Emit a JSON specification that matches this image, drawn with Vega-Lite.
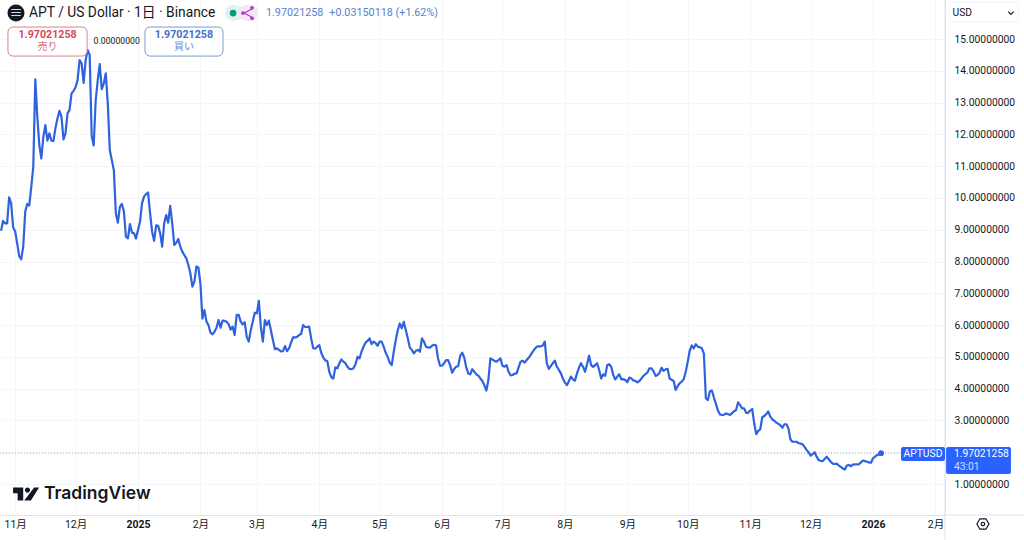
{
  "$schema": "https://vega.github.io/schema/vega-lite/v6.json",
  "autosize": "none",
  "padding": {"left": 0, "top": 0, "right": 79, "bottom": 25},
  "width": 945,
  "height": 515,
  "background": "#ffffff",
  "config": {
    "view": {"stroke": null},
    "text": {"font": "Roboto, 'Noto Sans CJK JP'"}
  },
  "datasets": {
    "prices": [
      {"date":"2024-10-25","price":8.97},{"date":"2024-10-26","price":9.28},{"date":"2024-10-27","price":9.2},{"date":"2024-10-28","price":9.2},{"date":"2024-10-29","price":10.02},{"date":"2024-10-30","price":9.83},{"date":"2024-10-31","price":9.07},
      {"date":"2024-11-01","price":8.95},{"date":"2024-11-02","price":8.57},{"date":"2024-11-03","price":8.17},{"date":"2024-11-04","price":8.07},{"date":"2024-11-05","price":8.47},{"date":"2024-11-06","price":9.57},{"date":"2024-11-07","price":9.81},{"date":"2024-11-08","price":9.76},{"date":"2024-11-09","price":10.35},{"date":"2024-11-10","price":10.98},{"date":"2024-11-11","price":13.73},{"date":"2024-11-12","price":12.55},{"date":"2024-11-13","price":11.66},{"date":"2024-11-14","price":11.24},{"date":"2024-11-15","price":11.93},{"date":"2024-11-16","price":12.29},{"date":"2024-11-17","price":11.8},{"date":"2024-11-18","price":12.03},{"date":"2024-11-19","price":11.8},{"date":"2024-11-20","price":11.79},{"date":"2024-11-21","price":12.2},{"date":"2024-11-22","price":12.5},{"date":"2024-11-23","price":12.74},{"date":"2024-11-24","price":12.55},{"date":"2024-11-25","price":11.84},{"date":"2024-11-26","price":12.03},{"date":"2024-11-27","price":12.66},{"date":"2024-11-28","price":12.77},{"date":"2024-11-29","price":13.29},{"date":"2024-11-30","price":13.37},
      {"date":"2024-12-01","price":13.48},{"date":"2024-12-02","price":13.71},{"date":"2024-12-03","price":14.34},{"date":"2024-12-04","price":14.23},{"date":"2024-12-05","price":13.62},{"date":"2024-12-06","price":14.34},{"date":"2024-12-07","price":14.65},{"date":"2024-12-08","price":14.5},{"date":"2024-12-09","price":11.95},{"date":"2024-12-10","price":11.65},{"date":"2024-12-11","price":13.08},{"date":"2024-12-12","price":13.7},{"date":"2024-12-13","price":14.21},{"date":"2024-12-14","price":13.42},{"date":"2024-12-15","price":13.6},{"date":"2024-12-16","price":13.92},{"date":"2024-12-17","price":12.97},{"date":"2024-12-18","price":11.5},{"date":"2024-12-19","price":11.19},{"date":"2024-12-20","price":10.88},{"date":"2024-12-21","price":9.52},{"date":"2024-12-22","price":9.22},{"date":"2024-12-23","price":9.72},{"date":"2024-12-24","price":9.81},{"date":"2024-12-25","price":9.57},{"date":"2024-12-26","price":8.78},{"date":"2024-12-27","price":8.73},{"date":"2024-12-28","price":9.18},{"date":"2024-12-29","price":8.91},{"date":"2024-12-30","price":8.89},{"date":"2024-12-31","price":8.72},
      {"date":"2025-01-01","price":8.99},{"date":"2025-01-02","price":9.25},{"date":"2025-01-03","price":9.83},{"date":"2025-01-04","price":10.04},{"date":"2025-01-05","price":10.12},{"date":"2025-01-06","price":10.17},{"date":"2025-01-07","price":9.52},{"date":"2025-01-08","price":8.94},{"date":"2025-01-09","price":8.65},{"date":"2025-01-10","price":9.14},{"date":"2025-01-11","price":9.12},{"date":"2025-01-12","price":8.89},{"date":"2025-01-13","price":8.47},{"date":"2025-01-14","price":9.2},{"date":"2025-01-15","price":9.46},{"date":"2025-01-16","price":9.22},{"date":"2025-01-17","price":9.75},{"date":"2025-01-18","price":9.2},{"date":"2025-01-19","price":8.52},{"date":"2025-01-20","price":8.59},{"date":"2025-01-21","price":8.71},{"date":"2025-01-22","price":8.47},{"date":"2025-01-23","price":8.31},{"date":"2025-01-24","price":8.2},{"date":"2025-01-25","price":8.1},{"date":"2025-01-26","price":7.89},{"date":"2025-01-27","price":7.63},{"date":"2025-01-28","price":7.21},{"date":"2025-01-29","price":7.37},{"date":"2025-01-30","price":7.84},{"date":"2025-01-31","price":7.81},
      {"date":"2025-02-01","price":7.3},{"date":"2025-02-02","price":6.2},{"date":"2025-02-03","price":6.47},{"date":"2025-02-04","price":6.11},{"date":"2025-02-05","price":6.0},{"date":"2025-02-06","price":5.76},{"date":"2025-02-07","price":5.71},{"date":"2025-02-08","price":5.79},{"date":"2025-02-09","price":5.92},{"date":"2025-02-10","price":6.16},{"date":"2025-02-11","price":5.92},{"date":"2025-02-12","price":6.14},{"date":"2025-02-13","price":6.13},{"date":"2025-02-14","price":6.11},{"date":"2025-02-15","price":6.03},{"date":"2025-02-16","price":5.86},{"date":"2025-02-17","price":5.95},{"date":"2025-02-18","price":5.69},{"date":"2025-02-19","price":6.32},{"date":"2025-02-20","price":6.32},{"date":"2025-02-21","price":6.11},{"date":"2025-02-22","price":6.02},{"date":"2025-02-23","price":6.09},{"date":"2025-02-24","price":5.63},{"date":"2025-02-25","price":5.48},{"date":"2025-02-26","price":5.84},{"date":"2025-02-27","price":6.11},{"date":"2025-02-28","price":6.39},
      {"date":"2025-03-01","price":6.37},{"date":"2025-03-02","price":6.76},{"date":"2025-03-03","price":5.95},{"date":"2025-03-04","price":5.48},{"date":"2025-03-05","price":6.16},{"date":"2025-03-06","price":6.0},{"date":"2025-03-07","price":6.14},{"date":"2025-03-08","price":5.84},{"date":"2025-03-09","price":5.53},{"date":"2025-03-10","price":5.24},{"date":"2025-03-11","price":5.27},{"date":"2025-03-12","price":5.22},{"date":"2025-03-13","price":5.17},{"date":"2025-03-14","price":5.18},{"date":"2025-03-15","price":5.34},{"date":"2025-03-16","price":5.18},{"date":"2025-03-17","price":5.27},{"date":"2025-03-18","price":5.45},{"date":"2025-03-19","price":5.61},{"date":"2025-03-20","price":5.61},{"date":"2025-03-21","price":5.63},{"date":"2025-03-22","price":5.69},{"date":"2025-03-23","price":5.72},{"date":"2025-03-24","price":6.0},{"date":"2025-03-25","price":5.94},{"date":"2025-03-26","price":5.94},{"date":"2025-03-27","price":5.95},{"date":"2025-03-28","price":5.58},{"date":"2025-03-29","price":5.27},{"date":"2025-03-30","price":5.26},{"date":"2025-03-31","price":5.32},
      {"date":"2025-04-01","price":5.37},{"date":"2025-04-02","price":5.13},{"date":"2025-04-03","price":4.98},{"date":"2025-04-04","price":4.89},{"date":"2025-04-05","price":4.87},{"date":"2025-04-06","price":4.53},{"date":"2025-04-07","price":4.36},{"date":"2025-04-08","price":4.32},{"date":"2025-04-09","price":4.67},{"date":"2025-04-10","price":4.64},{"date":"2025-04-11","price":4.8},{"date":"2025-04-12","price":4.92},{"date":"2025-04-13","price":4.85},{"date":"2025-04-14","price":4.8},{"date":"2025-04-15","price":4.69},{"date":"2025-04-16","price":4.62},{"date":"2025-04-17","price":4.61},{"date":"2025-04-18","price":4.64},{"date":"2025-04-19","price":4.77},{"date":"2025-04-20","price":5.0},{"date":"2025-04-21","price":4.95},{"date":"2025-04-22","price":5.16},{"date":"2025-04-23","price":5.32},{"date":"2025-04-24","price":5.45},{"date":"2025-04-25","price":5.5},{"date":"2025-04-26","price":5.58},{"date":"2025-04-27","price":5.4},{"date":"2025-04-28","price":5.48},{"date":"2025-04-29","price":5.43},{"date":"2025-04-30","price":5.35},
      {"date":"2025-05-01","price":5.48},{"date":"2025-05-02","price":5.48},{"date":"2025-05-03","price":5.32},{"date":"2025-05-04","price":5.13},{"date":"2025-05-05","price":5.0},{"date":"2025-05-06","price":4.82},{"date":"2025-05-07","price":4.74},{"date":"2025-05-08","price":5.16},{"date":"2025-05-09","price":5.53},{"date":"2025-05-10","price":5.84},{"date":"2025-05-11","price":6.05},{"date":"2025-05-12","price":5.9},{"date":"2025-05-13","price":6.1},{"date":"2025-05-14","price":5.84},{"date":"2025-05-15","price":5.58},{"date":"2025-05-16","price":5.29},{"date":"2025-05-17","price":5.22},{"date":"2025-05-18","price":5.11},{"date":"2025-05-19","price":5.19},{"date":"2025-05-20","price":5.22},{"date":"2025-05-21","price":5.16},{"date":"2025-05-22","price":5.58},{"date":"2025-05-23","price":5.48},{"date":"2025-05-24","price":5.32},{"date":"2025-05-25","price":5.3},{"date":"2025-05-26","price":5.29},{"date":"2025-05-27","price":5.35},{"date":"2025-05-28","price":5.38},{"date":"2025-05-29","price":5.36},{"date":"2025-05-30","price":4.95},{"date":"2025-05-31","price":4.72},
      {"date":"2025-06-01","price":4.72},{"date":"2025-06-02","price":4.8},{"date":"2025-06-03","price":4.9},{"date":"2025-06-04","price":4.9},{"date":"2025-06-05","price":4.74},{"date":"2025-06-06","price":4.5},{"date":"2025-06-07","price":4.62},{"date":"2025-06-08","price":4.69},{"date":"2025-06-09","price":4.71},{"date":"2025-06-10","price":5.03},{"date":"2025-06-11","price":5.13},{"date":"2025-06-12","price":4.98},{"date":"2025-06-13","price":4.67},{"date":"2025-06-14","price":4.48},{"date":"2025-06-15","price":4.45},{"date":"2025-06-16","price":4.61},{"date":"2025-06-17","price":4.53},{"date":"2025-06-18","price":4.45},{"date":"2025-06-19","price":4.41},{"date":"2025-06-20","price":4.32},{"date":"2025-06-21","price":4.24},{"date":"2025-06-22","price":4.11},{"date":"2025-06-23","price":3.94},{"date":"2025-06-24","price":4.27},{"date":"2025-06-25","price":4.95},{"date":"2025-06-26","price":4.92},{"date":"2025-06-27","price":4.87},{"date":"2025-06-28","price":4.85},{"date":"2025-06-29","price":4.9},{"date":"2025-06-30","price":4.95},
      {"date":"2025-07-01","price":4.72},{"date":"2025-07-02","price":4.69},{"date":"2025-07-03","price":4.74},{"date":"2025-07-04","price":4.53},{"date":"2025-07-05","price":4.42},{"date":"2025-07-06","price":4.43},{"date":"2025-07-07","price":4.47},{"date":"2025-07-08","price":4.48},{"date":"2025-07-09","price":4.67},{"date":"2025-07-10","price":4.85},{"date":"2025-07-11","price":4.88},{"date":"2025-07-12","price":4.82},{"date":"2025-07-13","price":4.9},{"date":"2025-07-14","price":4.97},{"date":"2025-07-15","price":5.06},{"date":"2025-07-16","price":5.16},{"date":"2025-07-17","price":5.25},{"date":"2025-07-18","price":5.32},{"date":"2025-07-19","price":5.33},{"date":"2025-07-20","price":5.33},{"date":"2025-07-21","price":5.36},{"date":"2025-07-22","price":5.48},{"date":"2025-07-23","price":4.8},{"date":"2025-07-24","price":4.62},{"date":"2025-07-25","price":4.71},{"date":"2025-07-26","price":4.8},{"date":"2025-07-27","price":4.88},{"date":"2025-07-28","price":4.69},{"date":"2025-07-29","price":4.59},{"date":"2025-07-30","price":4.48},{"date":"2025-07-31","price":4.32},
      {"date":"2025-08-01","price":4.19},{"date":"2025-08-02","price":4.11},{"date":"2025-08-03","price":4.24},{"date":"2025-08-04","price":4.38},{"date":"2025-08-05","price":4.29},{"date":"2025-08-06","price":4.25},{"date":"2025-08-07","price":4.48},{"date":"2025-08-08","price":4.66},{"date":"2025-08-09","price":4.8},{"date":"2025-08-10","price":4.69},{"date":"2025-08-11","price":4.53},{"date":"2025-08-12","price":4.77},{"date":"2025-08-13","price":5.04},{"date":"2025-08-14","price":4.74},{"date":"2025-08-15","price":4.68},{"date":"2025-08-16","price":4.74},{"date":"2025-08-17","price":4.8},{"date":"2025-08-18","price":4.59},{"date":"2025-08-19","price":4.32},{"date":"2025-08-20","price":4.45},{"date":"2025-08-21","price":4.4},{"date":"2025-08-22","price":4.74},{"date":"2025-08-23","price":4.77},{"date":"2025-08-24","price":4.69},{"date":"2025-08-25","price":4.43},{"date":"2025-08-26","price":4.29},{"date":"2025-08-27","price":4.38},{"date":"2025-08-28","price":4.45},{"date":"2025-08-29","price":4.29},{"date":"2025-08-30","price":4.3},{"date":"2025-08-31","price":4.27},
      {"date":"2025-09-01","price":4.2},{"date":"2025-09-02","price":4.35},{"date":"2025-09-03","price":4.32},{"date":"2025-09-04","price":4.26},{"date":"2025-09-05","price":4.24},{"date":"2025-09-06","price":4.2},{"date":"2025-09-07","price":4.24},{"date":"2025-09-08","price":4.32},{"date":"2025-09-09","price":4.4},{"date":"2025-09-10","price":4.46},{"date":"2025-09-11","price":4.51},{"date":"2025-09-12","price":4.64},{"date":"2025-09-13","price":4.64},{"date":"2025-09-14","price":4.55},{"date":"2025-09-15","price":4.4},{"date":"2025-09-16","price":4.43},{"date":"2025-09-17","price":4.5},{"date":"2025-09-18","price":4.66},{"date":"2025-09-19","price":4.56},{"date":"2025-09-20","price":4.61},{"date":"2025-09-21","price":4.62},{"date":"2025-09-22","price":4.32},{"date":"2025-09-23","price":4.28},{"date":"2025-09-24","price":4.24},{"date":"2025-09-25","price":3.96},{"date":"2025-09-26","price":4.08},{"date":"2025-09-27","price":4.17},{"date":"2025-09-28","price":4.22},{"date":"2025-09-29","price":4.3},{"date":"2025-09-30","price":4.53},
      {"date":"2025-10-01","price":4.85},{"date":"2025-10-02","price":5.2},{"date":"2025-10-03","price":5.36},{"date":"2025-10-04","price":5.27},{"date":"2025-10-05","price":5.4},{"date":"2025-10-06","price":5.32},{"date":"2025-10-07","price":5.3},{"date":"2025-10-08","price":5.27},{"date":"2025-10-09","price":5.11},{"date":"2025-10-10","price":3.7},{"date":"2025-10-11","price":3.64},{"date":"2025-10-12","price":3.92},{"date":"2025-10-13","price":3.94},{"date":"2025-10-14","price":3.72},{"date":"2025-10-15","price":3.52},{"date":"2025-10-16","price":3.31},{"date":"2025-10-17","price":3.19},{"date":"2025-10-18","price":3.17},{"date":"2025-10-19","price":3.18},{"date":"2025-10-20","price":3.22},{"date":"2025-10-21","price":3.2},{"date":"2025-10-22","price":3.17},{"date":"2025-10-23","price":3.23},{"date":"2025-10-24","price":3.29},{"date":"2025-10-25","price":3.33},{"date":"2025-10-26","price":3.57},{"date":"2025-10-27","price":3.48},{"date":"2025-10-28","price":3.38},{"date":"2025-10-29","price":3.38},{"date":"2025-10-30","price":3.24},{"date":"2025-10-31","price":3.24},
      {"date":"2025-11-01","price":3.31},{"date":"2025-11-02","price":3.36},{"date":"2025-11-03","price":2.91},{"date":"2025-11-04","price":2.57},{"date":"2025-11-05","price":2.67},{"date":"2025-11-06","price":2.72},{"date":"2025-11-07","price":3.1},{"date":"2025-11-08","price":3.14},{"date":"2025-11-09","price":3.2},{"date":"2025-11-10","price":3.28},{"date":"2025-11-11","price":3.12},{"date":"2025-11-12","price":3.03},{"date":"2025-11-13","price":2.99},{"date":"2025-11-14","price":2.93},{"date":"2025-11-15","price":2.89},{"date":"2025-11-16","price":2.85},{"date":"2025-11-17","price":2.77},{"date":"2025-11-18","price":2.88},{"date":"2025-11-19","price":2.88},{"date":"2025-11-20","price":2.75},{"date":"2025-11-21","price":2.4},{"date":"2025-11-22","price":2.33},{"date":"2025-11-23","price":2.33},{"date":"2025-11-24","price":2.33},{"date":"2025-11-25","price":2.29},{"date":"2025-11-26","price":2.27},{"date":"2025-11-27","price":2.25},{"date":"2025-11-28","price":2.17},{"date":"2025-11-29","price":2.07},{"date":"2025-11-30","price":2.0},
      {"date":"2025-12-01","price":1.89},{"date":"2025-12-02","price":1.94},{"date":"2025-12-03","price":2.0},{"date":"2025-12-04","price":1.86},{"date":"2025-12-05","price":1.75},{"date":"2025-12-06","price":1.73},{"date":"2025-12-07","price":1.72},{"date":"2025-12-08","price":1.79},{"date":"2025-12-09","price":1.86},{"date":"2025-12-10","price":1.78},{"date":"2025-12-11","price":1.7},{"date":"2025-12-12","price":1.64},{"date":"2025-12-13","price":1.63},{"date":"2025-12-14","price":1.64},{"date":"2025-12-15","price":1.58},{"date":"2025-12-16","price":1.54},{"date":"2025-12-17","price":1.49},{"date":"2025-12-18","price":1.46},{"date":"2025-12-19","price":1.58},{"date":"2025-12-20","price":1.6},{"date":"2025-12-21","price":1.56},{"date":"2025-12-22","price":1.61},{"date":"2025-12-23","price":1.62},{"date":"2025-12-24","price":1.62},{"date":"2025-12-25","price":1.62},{"date":"2025-12-26","price":1.68},{"date":"2025-12-27","price":1.74},{"date":"2025-12-28","price":1.72},{"date":"2025-12-29","price":1.7},{"date":"2025-12-30","price":1.68},{"date":"2025-12-31","price":1.67},
      {"date":"2026-01-01","price":1.81},{"date":"2026-01-02","price":1.86},{"date":"2026-01-03","price":1.91},{"date":"2026-01-04","price":1.93},{"date":"2026-01-05","price":1.97021258}
    ]
  },
  "encoding": {
    "x": {
      "field": "date",
      "type": "temporal",
      "title": null,
      "scale": {
        "type": "utc",
        "domain": [
          {"year": 2024, "month": 10, "date": 24, "hours": 11, "minutes": 16, "utc": true},
          {"year": 2026, "month": 2, "date": 5, "hours": 18, "utc": true}
        ]
      },
      "axis": {
        "orient": "bottom",
        "values": [
          {"year": 2024, "month": 11, "date": 1, "utc": true},
          {"year": 2024, "month": 12, "date": 1, "utc": true},
          {"year": 2025, "month": 1, "date": 1, "utc": true},
          {"year": 2025, "month": 2, "date": 1, "utc": true},
          {"year": 2025, "month": 3, "date": 1, "utc": true},
          {"year": 2025, "month": 4, "date": 1, "utc": true},
          {"year": 2025, "month": 5, "date": 1, "utc": true},
          {"year": 2025, "month": 6, "date": 1, "utc": true},
          {"year": 2025, "month": 7, "date": 1, "utc": true},
          {"year": 2025, "month": 8, "date": 1, "utc": true},
          {"year": 2025, "month": 9, "date": 1, "utc": true},
          {"year": 2025, "month": 10, "date": 1, "utc": true},
          {"year": 2025, "month": 11, "date": 1, "utc": true},
          {"year": 2025, "month": 12, "date": 1, "utc": true},
          {"year": 2026, "month": 1, "date": 1, "utc": true},
          {"year": 2026, "month": 2, "date": 1, "utc": true}
        ],
        "labelExpr": "utcmonth(datum.value) == 0 ? '' + utcyear(datum.value) : (utcmonth(datum.value) + 1) + '月'",
        "labelFontWeight": {"condition": {"test": "utcmonth(datum.value) == 0", "value": "bold"}, "value": "normal"},
        "labelFont": "Roboto, 'Noto Sans CJK JP'",
        "labelFontSize": 10.5,
        "labelColor": "#131722",
        "labelPadding": 4,
        "labelOverlap": false,
        "labelFlush": false,
        "ticks": false,
        "grid": true,
        "gridColor": "#f4f5f7",
        "domainColor": "#e0e3eb"
      }
    },
    "y": {
      "field": "price",
      "type": "quantitative",
      "title": null,
      "scale": {"domain": [0.025, 16.227], "nice": false, "zero": false},
      "axis": {
        "orient": "right",
        "values": [1, 2, 3, 4, 5, 6, 7, 8, 9, 10, 11, 12, 13, 14, 15],
        "format": ".8f",
        "labelFont": "Roboto",
        "labelFontSize": 10.3,
        "labelColor": "#131722",
        "labelPadding": 9,
        "labelOverlap": false,
        "ticks": false,
        "grid": true,
        "gridColor": "#f4f5f7",
        "domainColor": "#e0e3eb"
      }
    }
  },
  "layer": [
    {
      "data": {"values": [{"date": "2024-10-24T11:16:00Z", "date2": "2026-02-05T18:00:00Z", "price": 1.97021258}], "format": {"parse": {"date": "date", "date2": "date"}}},
      "mark": {"type": "rule", "color": "#94abee", "strokeWidth": 1, "strokeDash": [1, 2]},
      "encoding": {"x2": {"field": "date2"}}
    },
    {
      "data": {"name": "prices"},
      "mark": {"type": "line", "color": "#2f62de", "strokeWidth": 2.2, "strokeJoin": "round"}
    },
    {
      "data": {"values": [{"date": "2026-01-05", "price": 1.97021258}]},
      "mark": {"type": "point", "shape": "circle", "filled": true, "color": "#2f62de", "size": 34, "opacity": 1}
    },
    {
      "data": {"values": [
        {"date": "2026-02-05T18:00:00Z", "date2": "2026-03-18T00:00:00Z", "price": 0.025, "price2": 0.025},
        {"date": "2026-02-05T18:00:00Z", "date2": "2026-02-05T18:00:00Z", "price": 16.227, "price2": -0.76}
      ], "format": {"parse": {"date": "date", "date2": "date"}}},
      "mark": {"type": "rule", "color": "#e0e3eb", "strokeWidth": 1},
      "encoding": {"x2": {"field": "date2"}, "y2": {"field": "price2"}}
    },
    {
      "data": {"values": [
        {"date": "2024-10-28T10:00:00Z", "date2": "2024-12-06T17:00:00Z", "price": 15.376, "price2": 14.463}
      ], "format": {"parse": {"date": "date", "date2": "date"}}},
      "mark": {"type": "rect", "fill": "#ffffff", "stroke": "#d9838f", "strokeWidth": 1, "cornerRadius": 5},
      "encoding": {"x2": {"field": "date2"}, "y2": {"field": "price2"}}
    },
    {
      "data": {"values": [
        {"date": "2025-01-04T11:00:00Z", "date2": "2025-02-12T05:00:00Z", "price": 15.376, "price2": 14.463}
      ], "format": {"parse": {"date": "date", "date2": "date"}}},
      "mark": {"type": "rect", "fill": "#ffffff", "stroke": "#7f9cd0", "strokeWidth": 1, "cornerRadius": 5},
      "encoding": {"x2": {"field": "date2"}, "y2": {"field": "price2"}}
    },
    {
      "data": {"values": [{"date": "2024-11-17T02:00:00Z", "price": 15.124, "label": "1.97021258"}]},
      "mark": {"type": "text", "align": "center", "baseline": "middle", "fontSize": 10.7, "fontWeight": "bold", "color": "#d9475e"},
      "encoding": {"text": {"field": "label"}}
    },
    {
      "data": {"values": [{"date": "2024-11-17T02:00:00Z", "price": 14.746, "label": "売り"}]},
      "mark": {"type": "text", "align": "center", "baseline": "middle", "fontSize": 10, "color": "#dd6b7c"},
      "encoding": {"text": {"field": "label"}}
    },
    {
      "data": {"values": [{"date": "2025-01-23T20:00:00Z", "price": 15.124, "label": "1.97021258"}]},
      "mark": {"type": "text", "align": "center", "baseline": "middle", "fontSize": 10.7, "fontWeight": "bold", "color": "#3f6fd0"},
      "encoding": {"text": {"field": "label"}}
    },
    {
      "data": {"values": [{"date": "2025-01-23T20:00:00Z", "price": 14.746, "label": "買い"}]},
      "mark": {"type": "text", "align": "center", "baseline": "middle", "fontSize": 10, "color": "#6a8cd0"},
      "encoding": {"text": {"field": "label"}}
    },
    {
      "data": {"values": [{"date": "2024-12-21T10:00:00Z", "price": 14.935, "label": "0.00000000"}]},
      "mark": {"type": "text", "align": "center", "baseline": "middle", "fontSize": 8.7, "color": "#131722"},
      "encoding": {"text": {"field": "label"}}
    },
    {
      "data": {"values": [{"date": "2024-11-01T10:00:00Z", "price": 15.816}]},
      "mark": {"type": "point", "shape": "circle", "filled": true, "color": "#131722", "size": 289, "opacity": 1}
    },
    {
      "data": {"values": [{"date": "2024-11-01T10:00:00Z", "price": 15.816, "label": "≡"}]},
      "mark": {"type": "text", "align": "center", "baseline": "middle", "fontSize": 13, "color": "#ffffff"},
      "encoding": {"text": {"field": "label"}}
    },
    {
      "data": {"values": [{"date": "2024-11-07T22:00:00Z", "price": 15.816, "label": "APT / US Dollar · 1日 · Binance"}]},
      "mark": {"type": "text", "align": "left", "baseline": "middle", "fontSize": 13.8, "color": "#131722"},
      "encoding": {"text": {"field": "label"}}
    },
    {
      "data": {"values": [
        {"date": "2025-03-05T13:00:00Z", "price": 15.816, "label": "1.97021258"},
        {"date": "2025-04-06T00:00:00Z", "price": 15.816, "label": "+0.03150118 (+1.62%)"}
      ]},
      "mark": {"type": "text", "align": "left", "baseline": "middle", "fontSize": 10.8, "color": "#5b80cc"},
      "encoding": {"text": {"field": "label"}}
    },
    {
      "data": {"values": [{"date": "2025-02-13T05:00:00Z", "date2": "2025-02-22T00:00:00Z", "price": 16.07, "price2": 15.564}], "format": {"parse": {"date": "date", "date2": "date"}}},
      "mark": {"type": "rect", "fill": "#e2f3ef", "cornerRadius": 8},
      "encoding": {"x2": {"field": "date2"}, "y2": {"field": "price2"}}
    },
    {
      "data": {"values": [{"date": "2025-02-20T00:00:00Z", "date2": "2025-03-01T14:00:00Z", "price": 16.07, "price2": 15.564}], "format": {"parse": {"date": "date", "date2": "date"}}},
      "mark": {"type": "rect", "fill": "#f6e6fa", "cornerRadius": 8},
      "encoding": {"x2": {"field": "date2"}, "y2": {"field": "price2"}}
    },
    {
      "data": {"values": [{"date": "2025-02-17T05:00:00Z", "price": 15.816}]},
      "mark": {"type": "point", "shape": "circle", "filled": true, "color": "#089981", "size": 45, "opacity": 1}
    },
    {
      "data": {"values": [{"date": "2025-02-24T15:00:00Z", "price": 15.816}]},
      "mark": {"type": "point", "shape": "M.8,-.8L-.7,0L.8,.8", "filled": false, "stroke": "#a63fc4", "strokeWidth": 1.2, "size": 121, "opacity": 1}
    },
    {
      "data": {"values": [
        {"date": "2025-02-26T15:00:00Z", "price": 15.98},
        {"date": "2025-02-22T03:00:00Z", "price": 15.816},
        {"date": "2025-02-26T15:00:00Z", "price": 15.65}
      ]},
      "mark": {"type": "point", "shape": "circle", "filled": true, "color": "#a63fc4", "size": 14, "opacity": 1}
    },
    {
      "data": {"values": [{"date": "2024-11-06T10:00:00Z", "price": 0.685}]},
      "mark": {"type": "point", "shape": "M-1,-.5H-.22V.5H-.65V-.05H-1ZM.62,-.5H1L.37,.5H-.14ZM.31,-.3A.2,.2,0,1,1,-.09,-.3A.2,.2,0,1,1,.31,-.3Z", "filled": true, "color": "#131722", "size": 676, "opacity": 1}
    },
    {
      "data": {"values": [{"date": "2024-11-15T07:00:00Z", "price": 0.685, "label": "TradingView"}]},
      "mark": {"type": "text", "align": "left", "baseline": "middle", "font": "Inter", "fontSize": 17.5, "fontWeight": 600, "color": "#131722"},
      "encoding": {"text": {"field": "label"}}
    },
    {
      "data": {"values": [{"date": "2026-01-14T22:00:00Z", "date2": "2026-02-05T18:00:00Z", "price": 2.164, "price2": 1.7235}], "format": {"parse": {"date": "date", "date2": "date"}}},
      "mark": {"type": "rect", "fill": "#2962ff", "cornerRadius": 2},
      "encoding": {"x2": {"field": "date2"}, "y2": {"field": "price2"}}
    },
    {
      "data": {"values": [{"date": "2026-02-06T07:00:00Z", "date2": "2026-03-10T12:00:00Z", "price": 2.164, "price2": 1.3146}], "format": {"parse": {"date": "date", "date2": "date"}}},
      "mark": {"type": "rect", "fill": "#2962ff", "cornerRadius": 2},
      "encoding": {"x2": {"field": "date2"}, "y2": {"field": "price2"}}
    },
    {
      "data": {"values": [{"date": "2026-01-25T19:00:00Z", "price": 1.9437, "label": "APTUSD"}]},
      "mark": {"type": "text", "align": "center", "baseline": "middle", "fontSize": 10.3, "color": "#ffffff"},
      "encoding": {"text": {"field": "label"}}
    },
    {
      "data": {"values": [{"date": "2026-02-10T05:00:00Z", "price": 1.9437, "label": "1.97021258"}]},
      "mark": {"type": "text", "align": "left", "baseline": "middle", "fontSize": 10.3, "color": "#ffffff"},
      "encoding": {"text": {"field": "label"}}
    },
    {
      "data": {"values": [{"date": "2026-02-10T05:00:00Z", "price": 1.535, "label": "43:01"}]},
      "mark": {"type": "text", "align": "left", "baseline": "middle", "fontSize": 10.3, "color": "#cfdcff"},
      "encoding": {"text": {"field": "label"}}
    },
    {
      "data": {"values": [{"date": "2026-02-08T05:00:00Z", "date2": "2026-03-14T00:00:00Z", "price": 16.16, "price2": 15.53}], "format": {"parse": {"date": "date", "date2": "date"}}},
      "mark": {"type": "rect", "fill": "#ffffff", "stroke": "#f0f3fa", "cornerRadius": 3},
      "encoding": {"x2": {"field": "date2"}, "y2": {"field": "price2"}}
    },
    {
      "data": {"values": [{"date": "2026-02-09T12:00:00Z", "price": 15.816, "label": "USD"}]},
      "mark": {"type": "text", "align": "left", "baseline": "middle", "fontSize": 10.3, "color": "#131722"},
      "encoding": {"text": {"field": "label"}}
    },
    {
      "data": {"values": [{"date": "2026-03-10T12:00:00Z", "price": 15.816}]},
      "mark": {"type": "point", "shape": "M-1,-.5L0,.5L1,-.5", "filled": false, "stroke": "#131722", "strokeWidth": 1.2, "size": 30, "opacity": 1}
    },
    {
      "data": {"values": [{"date": "2026-02-24T14:00:00Z", "price": -0.258}]},
      "mark": {"type": "point", "shape": "M-1,0L-.5,-.87H.5L1,0L.5,.87H-.5Z", "filled": false, "stroke": "#131722", "strokeWidth": 1.2, "size": 144, "opacity": 1}
    },
    {
      "data": {"values": [{"date": "2026-02-24T14:00:00Z", "price": -0.258}]},
      "mark": {"type": "point", "shape": "circle", "filled": false, "stroke": "#131722", "strokeWidth": 1.2, "size": 12, "opacity": 1}
    }
  ]
}
